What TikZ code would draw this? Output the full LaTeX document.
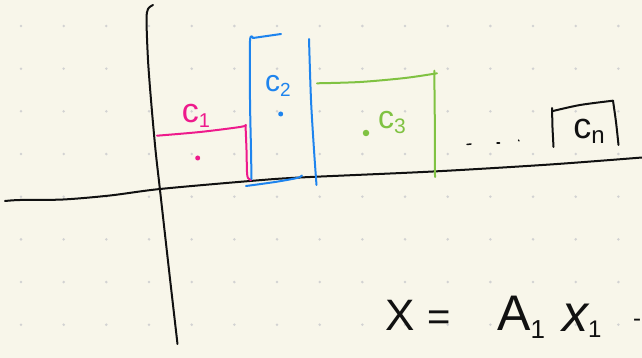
\documentclass[tikz,border=0pt]{standalone}
\usepackage{fontspec}
\setmainfont{Liberation Sans}
\definecolor{bgc}{HTML}{F8F6EA}
\definecolor{dotc}{HTML}{D2D2D2}
\definecolor{pinkc}{HTML}{EE1A8C}
\definecolor{bluec}{HTML}{1E84EE}
\definecolor{greenc}{HTML}{80C242}
\definecolor{inkc}{HTML}{111111}
\tikzset{
  pen/.style={line width=2pt, line cap=round, line join=round},
  lbl/.style={inner sep=0pt, anchor=center},
  spot/.style={circle, fill, inner sep=0pt, minimum size=5.5pt},
}
\newcommand{\clab}[4]{\fontsize{#1}{#1}\selectfont #3\raisebox{-5pt}{\fontsize{#2}{#2}\selectfont #4}}
\begin{document}
\begin{tikzpicture}[x=1pt,y=-1pt]
\useasboundingbox (0,0) rectangle (642,358);
\fill[bgc] (0,0) rectangle (642,358);
\foreach \i in {0,...,14}{\foreach \j in {0,...,7}{\fill[dotc] ({21+42.67*\i},{26+42.67*\j}) circle (1.4pt);}}
% axes
\draw[pen,inkc] plot[smooth] coordinates {(153,5) (148,9) (146.5,20) (148,60) (151,100) (155.5,150) (160,190) (169,270) (177.5,344)};
\draw[pen,inkc] plot[smooth] coordinates {(5,201) (20,200) (63,199.5) (110,195.5) (160,189) (250,181) (300,177.5) (433,171.5) (550,164.5) (642,157.5)};
% c1 pink
\draw[pen,pinkc] plot[smooth] coordinates {(157,135.7) (200,132) (240,127) (246,125)};
\draw[pen,pinkc] plot[smooth] coordinates {(245.5,125) (246.5,150) (247,172) (248,178) (251,180)};
\node[lbl,pinkc] (c1) at (196,116) {\clab{34}{20}{c}{1}};
\node[spot,pinkc,minimum size=5pt] (d1) at (197.7,158) {};
% c2 blue
\draw[pen,bluec] plot[smooth] coordinates {(253,38) (250,41) (250,100) (251,150) (251.5,179)};
\draw[pen,bluec] (253,38) -- (281,34);
\draw[pen,bluec] plot[smooth] coordinates {(246,186) (275,182) (297,178) (302,175.5)};
\draw[pen,bluec] plot[smooth] coordinates {(309,39) (311,100) (314,150) (316.5,185)};
\node[lbl,bluec] (c2) at (278,86) {\clab{30}{19}{c}{2}};
\node[spot,bluec,minimum size=5pt] (d2) at (280.7,114) {};
% c3 green
\draw[pen,greenc] plot[smooth] coordinates {(317,83.3) (360,82) (405,78) (437,73.3)};
\draw[pen,greenc] (434.3,70.7) -- (434.8,120) -- (435,177);
\node[lbl,greenc] (c3) at (392,122) {\clab{32}{21}{c}{3}};
\node[spot,greenc,minimum size=6.5pt] (d3) at (366,133) {};
% dots
\draw[pen,inkc,line width=1.5pt] (467,144.5) -- (471,144);
\draw[pen,inkc,line width=1.5pt] (497,143) -- (499.5,143);
\draw[pen,inkc,line width=1.3pt] (518.5,140) -- (519,141);
% cn black
\draw[pen,inkc] (552,108) -- (552.5,128) -- (553.5,147);
\draw[pen,inkc] plot[smooth] coordinates {(553,111) (580,105) (613,100.7)};
\draw[pen,inkc] plot[smooth] coordinates {(613,100.7) (616,122) (618.5,145)};
\node[lbl,inkc] (cn) at (589,131) {\clab{36}{24}{c}{n}};
% formula
\node[lbl,inkc,anchor=base west] (fx) at (385,330) {\fontsize{44}{44}\selectfont X};
\node[lbl,inkc,anchor=base west] (feq) at (427,330) {\fontsize{40}{40}\selectfont =};
\node[lbl,inkc,anchor=base west] (fa) at (497,330) {\fontsize{50}{50}\selectfont A\raisebox{-8pt}{\fontsize{26}{26}\selectfont 1}};
\node[lbl,inkc,anchor=base west] (fxx) at (562,331) {\fontsize{52}{52}\selectfont\itshape x\raisebox{-6pt}{\upshape\fontsize{24}{24}\selectfont 1}};
\node[lbl,inkc,anchor=base west] (fm) at (633,326) {\fontsize{24}{24}\selectfont -};
\end{tikzpicture}
\end{document}
